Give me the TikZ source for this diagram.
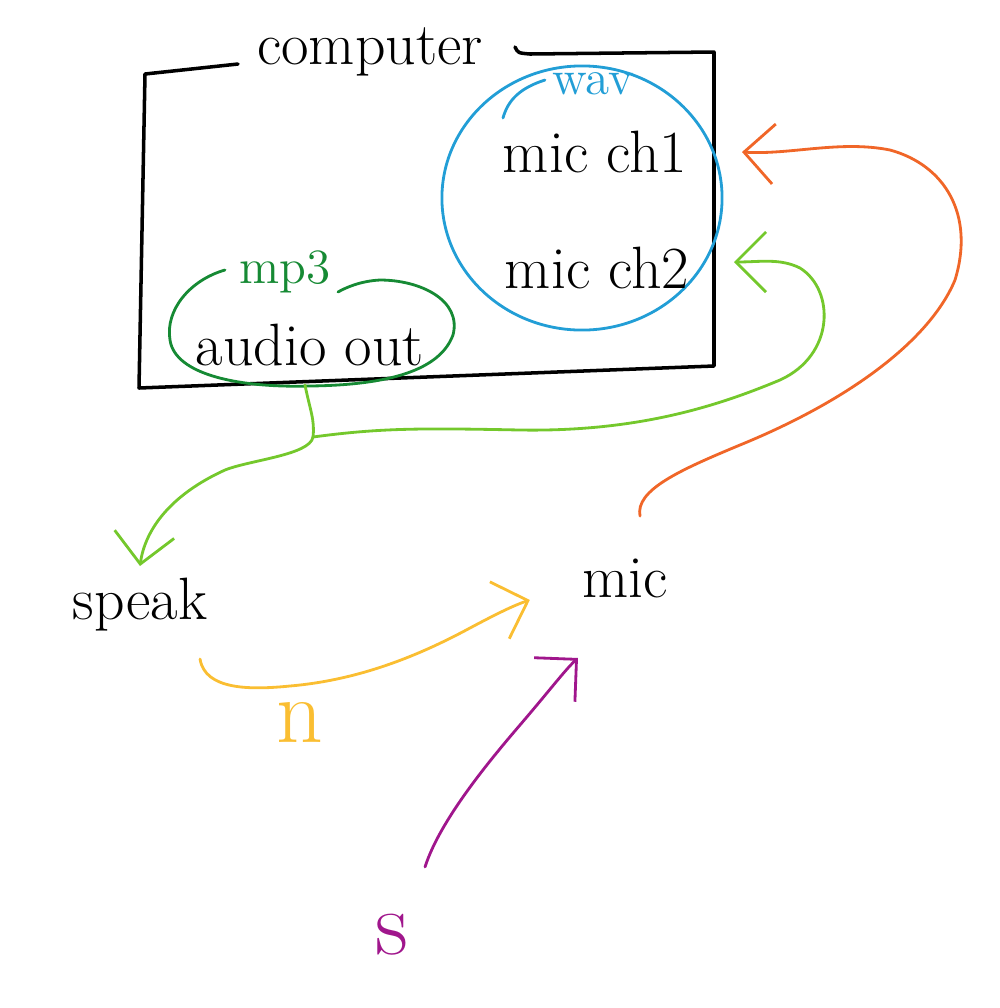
\documentclass[tikz,border=0pt]{standalone}
\usepackage{tikz}
\usetikzlibrary{arrows.meta}
\usepackage{xcolor}
\definecolor{wavblue}{RGB}{34,158,214}
\definecolor{mpgreen}{RGB}{22,138,52}
\definecolor{wiregreen}{RGB}{116,200,44}
\definecolor{fborange}{RGB}{240,102,40}
\definecolor{ngold}{RGB}{250,190,50}
\definecolor{spurple}{RGB}{160,22,140}

\begin{document}
\begin{tikzpicture}[x=0.01cm,y=-0.01cm,>={Straight Barb[length=3mm,width=6mm]},font=\fontsize{17}{20}\selectfont,line cap=round,line join=round,
  pen/.style={line width=0.8pt},
  small/.style={font=\fontsize{14}{16}\selectfont},
  big/.style={font=\fontsize{26}{30}\selectfont}]
\useasboundingbox (0,0) rectangle (1000,1008);
\draw[line width=1pt] (238,64) -- (145,74) -- (139,388) -- (714,366) -- (714,52) -- (530,54) .. controls (518,53) .. (515,47);
\node (comp) at (370,52) {computer};
\draw[pen,wavblue] (582,198) ellipse (1.4cm and 1.32cm);
\draw[pen,wavblue] (503,118) .. controls (508,100) and (520,88) .. (545,80);
\node[small,text=wavblue] (wav) at (593,84) {wav};
\node (ch1) at (595,152) {mic ch1};
\node (ch2) at (597,268) {mic ch2};
\draw[pen,mpgreen] (225,270) .. controls (190,280) and (165,310) .. (170,340) .. controls (175,375) and (240,388) .. (310,386) .. controls (390,385) and (440,370) .. (453,335) .. controls (462,300) and (420,280) .. (380,280) .. controls (360,281) and (345,288) .. (338,292);
\node[small,text=mpgreen] (mp3) at (285,272) {mp3};
\node (aout) at (310,345) {audio out};
\node (speak) at (140,605) {speak};
\node (mic) at (625,578) {mic};
\node[big,text=ngold] (n) at (300,722) {n};
\node[big,text=spurple] (s) at (392,935) {s};
\coordinate (mpbot) at (305,385);
\coordinate (junc) at (313,437);
\coordinate (port1) at (742,152);
\coordinate (port2) at (734,262);
\draw[pen,wiregreen] (mpbot) .. controls (310,410) and (315,420) .. (junc);
\draw[pen,wiregreen,->] (junc) .. controls (310,455) and (250,460) .. (225,470) .. controls (170,495) and (145,530) .. (speak.north);
\draw[pen,wiregreen,->] (junc) .. controls (380,428) and (420,428) .. (520,430) .. controls (640,432) and (720,405) .. (780,380) .. controls (835,355) and (835,290) .. (800,268) .. controls (780,258) and (760,262) .. (port2);
\draw[pen,fborange,->] ([xshift=0.15cm,yshift=0.3cm]mic.north) .. controls (635,490) and (680,470) .. (740,445) .. controls (850,400) and (930,340) .. (955,280) .. controls (975,215) and (945,165) .. (890,150) .. controls (840,140) and (790,155) .. (port1);
\draw[pen,ngold,->] ([xshift=0.6cm,yshift=-0.15cm]speak.south) .. controls (205,690) and (250,690) .. (290,686) .. controls (360,680) and (420,655) .. (470,628) .. controls (500,612) and (515,605) .. ([xshift=-4mm,yshift=1mm]mic.south west);
\draw[pen,spurple,->] ([xshift=0.33cm,yshift=0.35cm]s.north) .. controls (440,820) and (490,760) .. (520,725) .. controls (550,690) and (565,670) .. ([xshift=-0.47cm,yshift=-0.48cm]mic.south);
\end{tikzpicture}
\end{document}
